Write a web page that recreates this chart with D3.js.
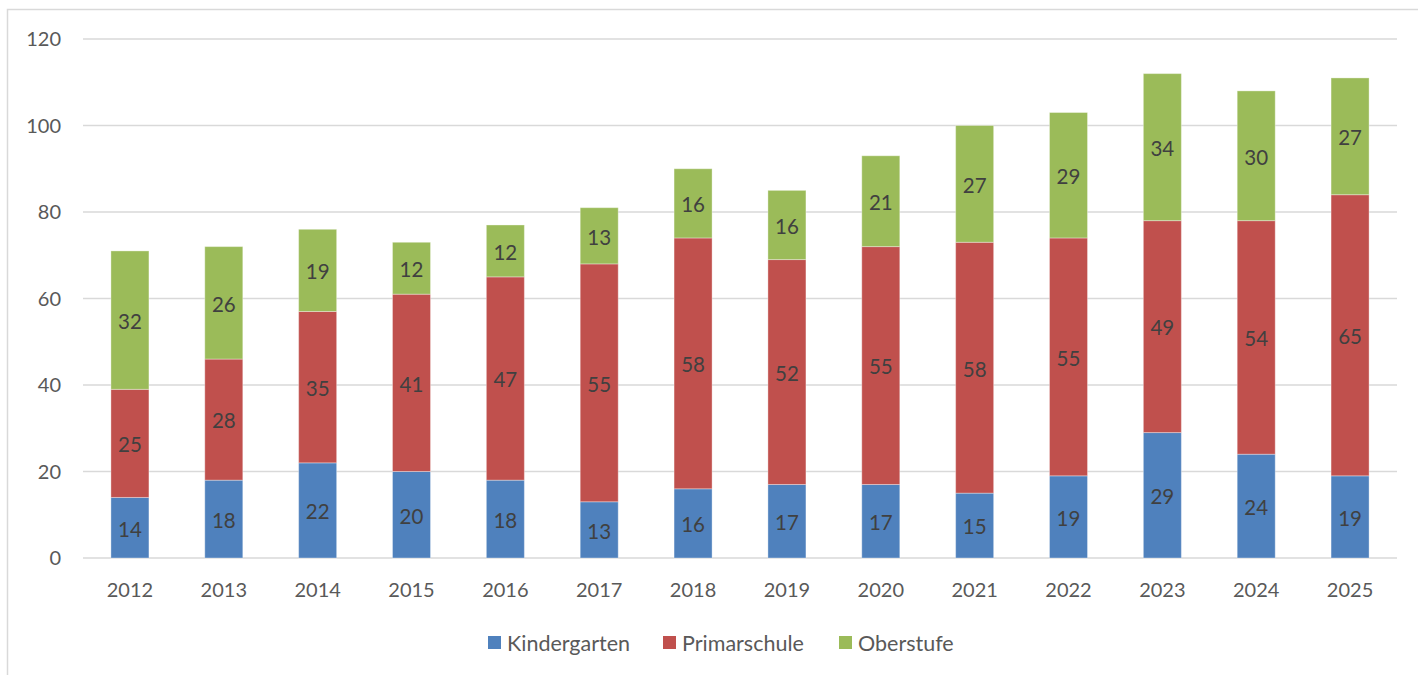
<!DOCTYPE html>
<html>
<head>
<meta charset="utf-8">
<script src="https://cdn.jsdelivr.net/npm/d3@7"></script>
<style>
  body { margin: 0; background: #fff; }
  text { font-family: Lato, "Open Sans", sans-serif; }
</style>
</head>
<body>
<div class="chart"></div>
<script>
const years = ['2012','2013','2014','2015','2016','2017','2018','2019','2020','2021','2022','2023','2024','2025'];
const kindergarten = [14, 18, 22, 20, 18, 13, 16, 17, 17, 15, 19, 29, 24, 19];
const primarschule = [25, 28, 35, 41, 47, 55, 58, 52, 55, 58, 55, 49, 54, 65];
const oberstufe    = [32, 26, 19, 12, 12, 13, 16, 16, 21, 27, 29, 34, 30, 27];
const seriesNames = ['Kindergarten', 'Primarschule', 'Oberstufe'];
const seriesColors = ['#4F81BD', '#C0504D', '#9BBB59'];
const yTicks = [0, 20, 40, 60, 80, 100, 120];

const width = 1418, height = 675;

const svg = d3.select('.chart').append('svg')
    .attr('width', width)
    .attr('height', height);

// chart frame
svg.append('rect')
    .attr('x', 7.5).attr('y', 9.5)
    .attr('width', 1420).attr('height', 680)
    .attr('fill', 'none')
    .attr('stroke', '#d9d9d9')
    .attr('stroke-width', 1.5);

const x = d3.scaleBand()
    .domain(years)
    .range([83, 1397])
    .paddingInner(0.595)
    .paddingOuter(0.2975);

const y = d3.scaleLinear()
    .domain([0, 120])
    .range([558, 39]);

// gridlines
svg.selectAll('line.grid')
    .data(yTicks)
    .enter().append('line')
    .attr('class', 'grid')
    .attr('x1', 83).attr('x2', 1397)
    .attr('y1', d => y(d)).attr('y2', d => y(d))
    .attr('stroke', '#d9d9d9')
    .attr('stroke-width', 1.5);

// y labels
svg.selectAll('text.ytick')
    .data(yTicks)
    .enter().append('text')
    .attr('class', 'ytick')
    .attr('x', 61)
    .attr('y', d => y(d))
    .attr('dy', '0.36em')
    .attr('text-anchor', 'end')
    .attr('fill', '#595959')
    .style('font-size', '20px')
    .text(d => d);

// x labels
svg.selectAll('text.xtick')
    .data(years)
    .enter().append('text')
    .attr('class', 'xtick')
    .attr('x', d => x(d) + x.bandwidth() / 2)
    .attr('y', 597)
    .attr('text-anchor', 'middle')
    .attr('fill', '#595959')
    .style('font-size', '20px')
    .text(d => d);

const table = years.map((yr, i) => ({
    year: yr,
    Kindergarten: kindergarten[i],
    Primarschule: primarschule[i],
    Oberstufe: oberstufe[i]
}));

const stacked = d3.stack().keys(seriesNames)(table);

const groups = svg.selectAll('g.series')
    .data(stacked)
    .enter().append('g')
    .attr('class', 'series')
    .attr('fill', (d, i) => seriesColors[i]);

groups.selectAll('rect')
    .data(d => d)
    .enter().append('rect')
    .attr('x', d => x(d.data.year))
    .attr('width', x.bandwidth())
    .attr('y', d => y(d[1]))
    .attr('height', d => y(d[0]) - y(d[1]))
    .attr('stroke', '#ffffff')
    .attr('stroke-opacity', 0.35)
    .attr('stroke-width', 1);

groups.selectAll('text')
    .data(d => d)
    .enter().append('text')
    .attr('x', d => x(d.data.year) + x.bandwidth() / 2)
    .attr('y', d => (y(d[0]) + y(d[1])) / 2 + 1.5)
    .attr('dy', '0.36em')
    .attr('text-anchor', 'middle')
    .attr('fill', '#404040')
    .style('font-size', '20.5px')
    .text(d => d[1] - d[0]);

// legend
const legendX = [488, 663, 839];
const legend = svg.selectAll('g.legend')
    .data(seriesNames)
    .enter().append('g')
    .attr('class', 'legend')
    .attr('transform', (d, i) => `translate(${legendX[i]},636)`);

legend.append('rect')
    .attr('width', 13).attr('height', 13)
    .attr('fill', (d, i) => seriesColors[i]);

legend.append('text')
    .attr('x', 19)
    .attr('y', 7)
    .attr('dy', '0.36em')
    .attr('fill', '#595959')
    .style('font-size', '21.5px')
    .text(d => d);
</script>
</body>
</html>
